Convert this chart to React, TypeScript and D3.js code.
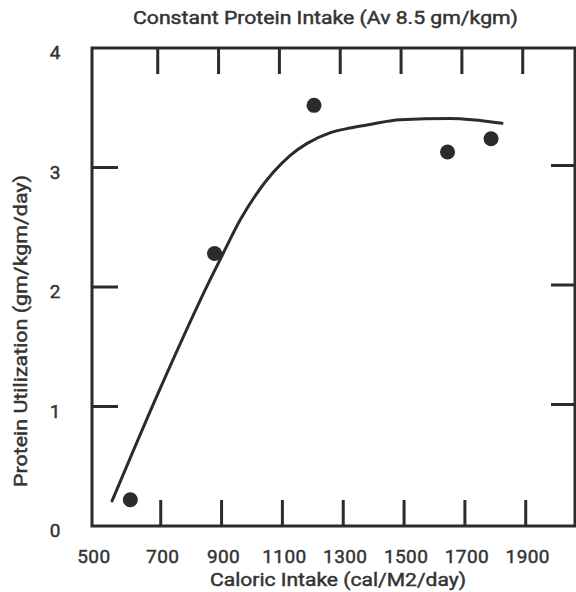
import React from "react";
import * as d3 from "d3";

const title = "Constant Protein Intake (Av 8.5 gm/kgm)";
const xTitle = "Caloric Intake (cal/M2/day)";
const yTitle = "Protein Utilization (gm/kgm/day)";

const xTickLabels = [500, 700, 900, 1100, 1300, 1500, 1700, 1900];
const xTickMarks = [700, 900, 1100, 1300, 1500, 1700, 1900];
const yTickLabels = [0, 1, 2, 3, 4];
const yTickMarks = [1, 2, 3];

const pointCal = [600, 877, 1204, 1643, 1786];
const pointUtil = [0.22, 2.28, 3.52, 3.13, 3.24];

const curveCal = [540, 698, 862, 905, 961, 1015, 1070, 1125, 1180, 1256, 1322, 1388, 1487, 1651, 1822];
const curveUtil = [0.21, 1.15, 2.06, 2.28, 2.56, 2.78, 2.96, 3.1, 3.2, 3.29, 3.33, 3.36, 3.4, 3.41, 3.37];

const W = 576;
const H = 592;
const ink = "#2b2b2b";
const textInk = "#333";
const font = "Roboto, 'Liberation Sans', Arial, sans-serif";

export default function App() {
  const left = 92, right = 575, top = 48, bottom = 526;
  const x = d3.scaleLinear().domain([474, 2062]).range([left, right]);
  const y = d3.scaleLinear().domain([0, 4]).range([bottom, top]);
  const tickLen = 26;

  const line = d3
    .line<number>()
    .x((_, i) => x(curveCal[i]))
    .y((_, i) => y(curveUtil[i]))
    .curve(d3.curveMonotoneX);

  return (
    <div style={{ position: "absolute", left: 0, top: 0 }}>
      <svg width={W} height={H} style={{ display: "block", background: "#fff" }}>
        <g fill={textInk} fontFamily={font} fontWeight={400} stroke={textInk} strokeWidth={0.45}>
          <text x={325.5} y={24} textAnchor="middle" fontSize={18} textLength={385} lengthAdjust="spacingAndGlyphs">
            {title}
          </text>
          <text x={338} y={586} textAnchor="middle" fontSize={18} textLength={256} lengthAdjust="spacingAndGlyphs">
            {xTitle}
          </text>
          <text
            transform={`translate(27,331) rotate(-90)`}
            textAnchor="middle"
            fontSize={18}
            textLength={312}
            lengthAdjust="spacingAndGlyphs"
          >
            {yTitle}
          </text>
          {xTickLabels.map((v, i) => (
            <text key={v} x={x(v) + (i === 0 ? -6 : 2)} y={563} textAnchor="middle" fontSize={19} letterSpacing={0.4}>
              {v}
            </text>
          ))}
          {yTickLabels.map((v) => (
            <text key={v} x={55} y={y(v) + 11} textAnchor="middle" fontSize={19}>
              {v}
            </text>
          ))}
        </g>
        <g stroke={ink} strokeWidth={3} fill="none" strokeLinecap="butt">
          <rect x={left} y={top} width={right - left} height={bottom - top} />
          {xTickMarks.map((v) => (
            <g key={v}>
              <line x1={x(v)} x2={x(v)} y1={bottom} y2={bottom - tickLen} />
              <line x1={x(v) - 3} x2={x(v) - 3} y1={top} y2={top + tickLen} />
            </g>
          ))}
          {yTickMarks.map((v) => (
            <g key={v}>
              <line x1={left} x2={left + tickLen} y1={y(v)} y2={y(v)} />
              <line x1={right} x2={right - 24} y1={y(v) - 2} y2={y(v) - 2} />
            </g>
          ))}
          <path d={line(curveCal) || ""} strokeLinecap="round" />
        </g>
        <g fill={ink}>
          {pointCal.map((c, i) => (
            <circle key={c} cx={x(c)} cy={y(pointUtil[i])} r={7.5} />
          ))}
        </g>
      </svg>
    </div>
  );
}
